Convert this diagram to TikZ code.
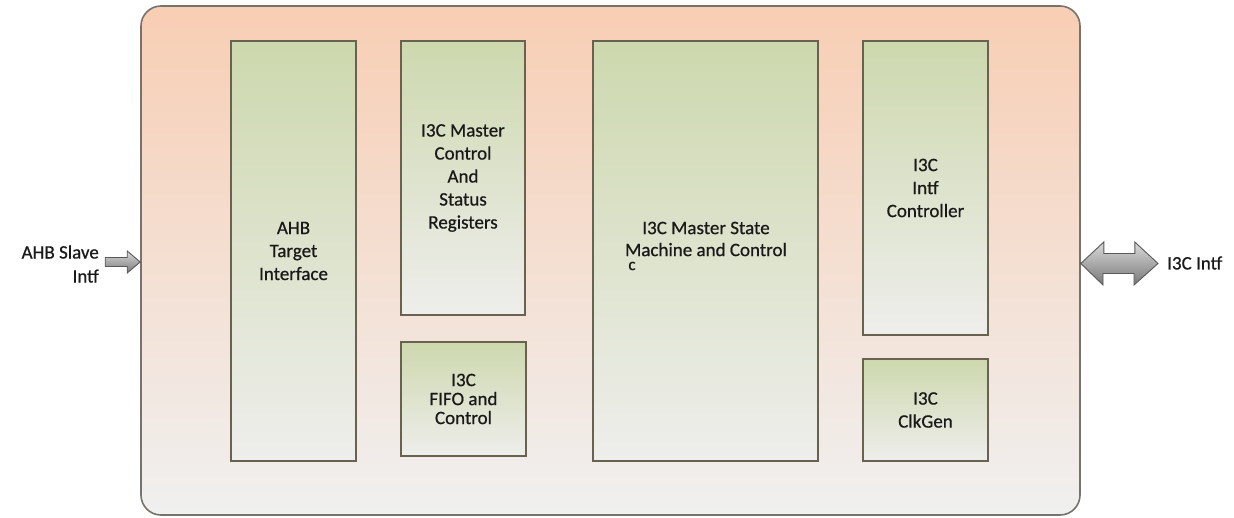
\documentclass[tikz,border=0pt]{standalone}
\usepackage{fontspec}
\setmainfont{Carlito}[FakeBold=0.6]
\begin{document}
\begin{tikzpicture}[x=1pt,y=-1pt,font=\fontsize{19}{23}\selectfont]
\definecolor{peach}{RGB}{248,206,180}
\definecolor{paleg}{RGB}{240,240,240}
\definecolor{sage}{RGB}{205,216,174}
\definecolor{pale2}{RGB}{238,238,236}
\definecolor{blkline}{RGB}{105,98,80}
\definecolor{outline}{RGB}{118,114,110}
\definecolor{arrlight}{RGB}{218,218,218}
\definecolor{arrdark}{RGB}{120,120,120}
\definecolor{arredge}{RGB}{88,88,88}
\definecolor{txt}{RGB}{25,25,25}
\tikzset{
  chipbox/.style={draw=outline,line width=1.6pt,rounded corners=20pt,top color=peach,bottom color=paleg,inner sep=0pt},
  blk/.style={draw=blkline,line width=1.5pt,top color=sage,bottom color=pale2,inner sep=0pt,align=center,text=txt},
  lbl/.style={inner sep=0pt,text=txt},
  blockarrow/.style={draw=arredge,line width=0.9pt,top color=arrlight,bottom color=arrdark,line join=miter}
}
\useasboundingbox (0,0) rectangle (1234,517);
\fill[white] (0,0) rectangle (1234,517);
% outer chip
\node[chipbox,minimum width=939pt,minimum height=509pt] (chip) at (610.5,260.5) {};
% blocks
\node[blk,minimum width=125pt,minimum height=420pt] (ahb) at (293.5,251) {AHB\\Target\\Interface};
\node[blk,minimum width=124pt,minimum height=274pt] (regs) at (463,178) {I3C Master\\Control\\And\\Status\\Registers};
\node[blk,minimum width=125pt,minimum height=114pt,font=\fontsize{19}{19}\selectfont] (fifo) at (463.5,399) {I3C\\FIFO and\\Control};
\node[blk,minimum width=225pt,minimum height=420pt] (fsm) at (705.5,251) {};
\node[lbl,align=center,font=\fontsize{19}{22}\selectfont] (fsmtxt) at (706,239) {I3C Master State\\Machine and Control};
\node[lbl,font=\fontsize{17}{17}\selectfont] (stray) at (632,266) {c};
\node[blk,minimum width=125pt,minimum height=294pt] (intf) at (925.5,188) {I3C\\Intf\\Controller};
\node[blk,minimum width=125pt,minimum height=102pt] (clk) at (925.5,410) {I3C\\ClkGen};
% external labels
\node[lbl,align=right,anchor=east,font=\fontsize{19}{24}\selectfont] (ahbslv) at (99,264) {AHB Slave\\Intf};
\node[lbl,anchor=west] (i3cif) at (1167,263) {I3C Intf};
% input arrow
\coordinate (intip) at (chip.west |- 0,262);
\draw[blockarrow] (intip) ++(-35,-4.5) -- ++(22,0) -- ++(0,-6.5) -- (intip) -- ++(-13,11) -- ++(0,-6.5) -- ++(-22,0) -- cycle;
% bidirectional arrow
\coordinate (bltip) at (chip.east |- 0,263.5);
\coordinate (brtip) at (1158,263.5);
\draw[blockarrow] (bltip) -- ++(23,-21.5) -- ++(0,11.5) -- ++(31,0) -- ++(0,-11.5) -- (brtip) -- ++(-24,21.5) -- ++(0,-11.5) -- ++(-31,0) -- ++(0,11.5) -- cycle;
\end{tikzpicture}
\end{document}
